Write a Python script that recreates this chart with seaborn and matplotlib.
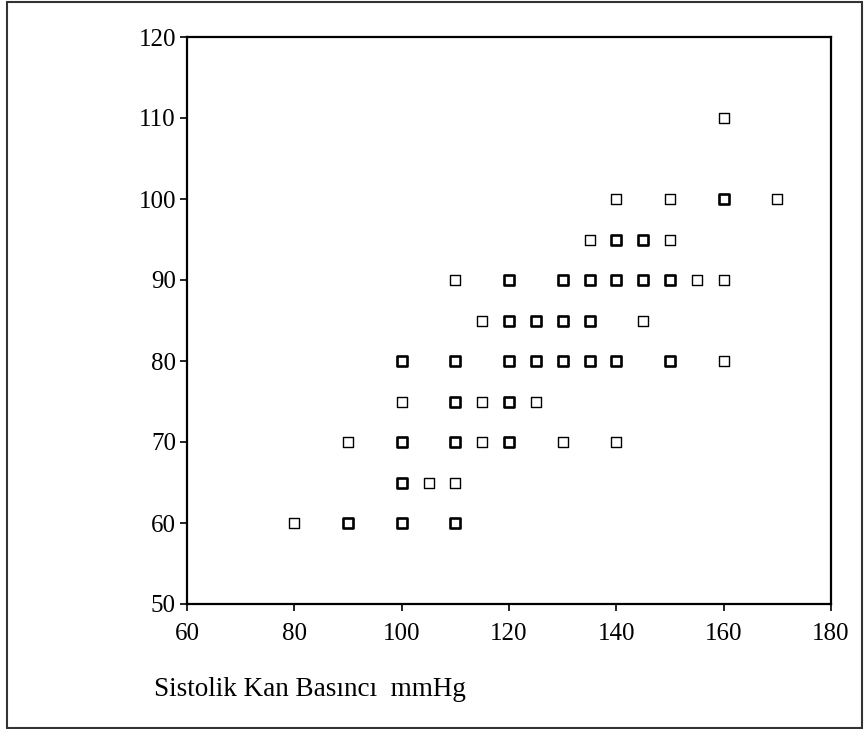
import numpy as np
import pandas as pd
import matplotlib
matplotlib.use("Agg")
import matplotlib.pyplot as plt
import seaborn as sns
from matplotlib.patches import Rectangle

# veriler (sistolik, diyastolik, tekrar sayısı)
sistolik = [160,
            140, 150, 160, 170,
            135, 140, 145, 150,
            110, 120, 130, 135, 140, 145, 150, 155, 160,
            115, 120, 125, 130, 135, 145,
            100, 110, 120, 125, 130, 135, 140, 150, 160,
            100, 110, 115, 120, 125,
            90, 100, 110, 115, 120, 130, 140,
            100, 105, 110,
            80, 90, 100, 110]
diyastolik = [110,
              100, 100, 100, 100,
              95, 95, 95, 95,
              90, 90, 90, 90, 90, 90, 90, 90, 90,
              85, 85, 85, 85, 85, 85,
              80, 80, 80, 80, 80, 80, 80, 80, 80,
              75, 75, 75, 75, 75,
              70, 70, 70, 70, 70, 70, 70,
              65, 65, 65,
              60, 60, 60, 60]
tekrar = [1,
          1, 1, 2, 1,
          1, 2, 2, 1,
          1, 2, 2, 2, 2, 2, 2, 1, 1,
          1, 2, 2, 2, 2, 1,
          2, 2, 2, 2, 2, 2, 2, 2, 1,
          1, 2, 1, 2, 1,
          1, 2, 2, 1, 2, 1, 1,
          2, 1, 1,
          1, 2, 2, 2]

x_ticks = [60, 80, 100, 120, 140, 160, 180]
y_ticks = [50, 60, 70, 80, 90, 100, 110, 120]

df = pd.DataFrame({"sbp": sistolik, "dbp": diyastolik, "n": tekrar})

sns.set_style("white")
plt.rcParams["font.family"] = ["Liberation Serif", "DejaVu Serif"]

fig = plt.figure(figsize=(8.64, 7.29), dpi=100)
ax = fig.add_axes([187/864, 1-604/729, 644/864, 567/729])

tek = df[df["n"] == 1]
cok = df[df["n"] > 1]
sns.scatterplot(data=tek, x="sbp", y="dbp", marker="s", s=45,
                facecolor="white", edgecolor="black", linewidth=1.0, ax=ax)
sns.scatterplot(data=cok, x="sbp", y="dbp", marker="s", s=45,
                facecolor="white", edgecolor="black", linewidth=1.9, ax=ax)

ax.set_xlim(60, 180)
ax.set_ylim(50, 120)
ax.set_xticks(x_ticks)
ax.set_yticks(y_ticks)
ax.set_xlabel("")
ax.set_ylabel("")
for sp in ax.spines.values():
    sp.set_color("black")
    sp.set_linewidth(1.6)
ax.tick_params(axis="both", direction="out", length=5, width=1.2,
               color="black", labelsize=18, labelcolor="black",
               left=True, bottom=True)
ax.tick_params(axis="x", pad=9)
ax.tick_params(axis="y", pad=3)

fig.text(154/864, 1-690/729, "Sistolik Kan Basıncı  mmHg",
         fontsize=19.5, ha="left", va="center", color="black")

# dış çerçeve
fig.patches.append(Rectangle((7/864, 1/729), 855/864, 726/729,
                             transform=fig.transFigure, fill=False,
                             edgecolor="#333333", linewidth=1.5))

plt.savefig("out.png", dpi=100)
plt.close()
